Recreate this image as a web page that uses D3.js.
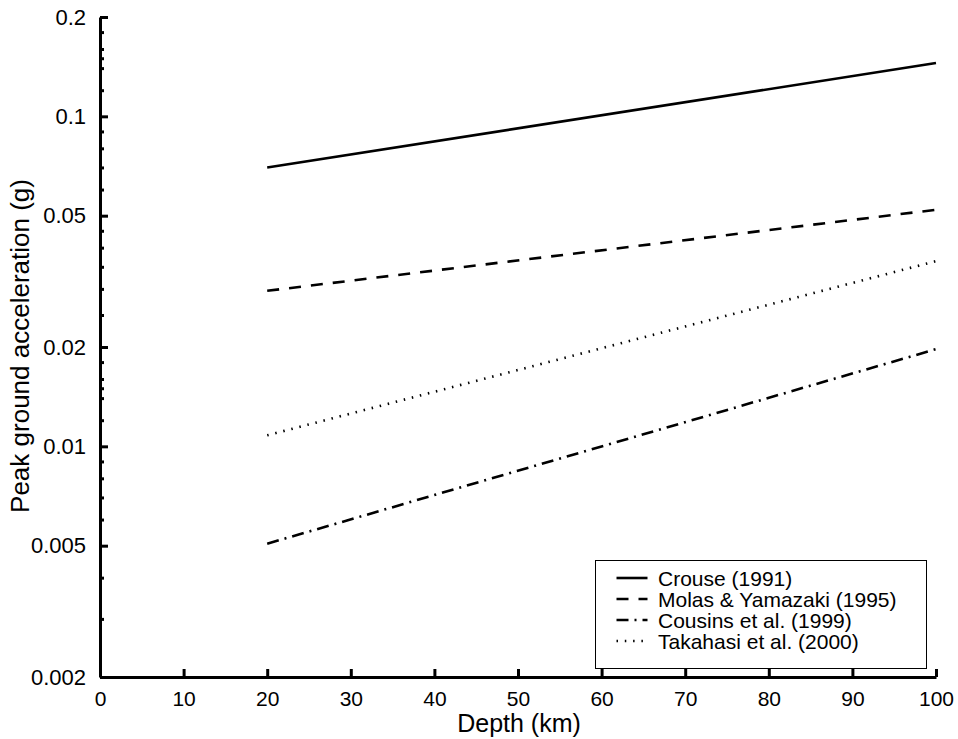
<!DOCTYPE html>
<html>
<head>
<meta charset="utf-8">
<script src="https://cdn.jsdelivr.net/npm/d3@7"></script>
<style>
  body { margin: 0; background: #fff; }
  text { font-family: "Liberation Sans", Arial, Helvetica, sans-serif; fill: #000; }
</style>
</head>
<body>
<svg id="chart" width="958" height="739"></svg>
<script>
// depth (km) at which each curve starts and ends
const depths = [20, 100];

// peak ground acceleration (g) per relation
const crouse = [0.070, 0.145];
const molas = [0.0296, 0.0521];
const cousins = [0.00507, 0.0197];
const takahasi = [0.0108, 0.0364];

const seriesNames = [
  "Crouse (1991)",
  "Molas & Yamazaki (1995)",
  "Cousins et al. (1999)",
  "Takahasi et al. (2000)",
];

// axis ticks
const xTicks = [0, 10, 20, 30, 40, 50, 60, 70, 80, 90, 100];
const yMajor = [0.002, 0.005, 0.01, 0.02, 0.05, 0.1, 0.2];
const yLabels = ["0.002", "0.005", "0.01", "0.02", "0.05", "0.1", "0.2"];
const yMinor = [
  0.003, 0.004,
  0.006, 0.007, 0.008, 0.009,
  0.012, 0.014, 0.015, 0.016, 0.018,
  0.025, 0.03, 0.035, 0.04, 0.045,
  0.06, 0.07, 0.08, 0.09,
  0.12, 0.14, 0.15, 0.16, 0.18,
];

const svg = d3.select("#chart");

const xScale = d3.scaleLinear().domain([0, 100]).range([100, 936]);
const yScale = d3.scaleLog().domain([0.002, 0.2]).range([677, 17]);

// dash patterns for each series
const dashes = [null, "12,10", "12,6,2,6", "1.5,6.8"];
const values = [crouse, molas, cousins, takahasi];

const line = d3
  .line()
  .x((d) => xScale(d.x))
  .y((d) => yScale(d.y));

values.forEach((vals, i) => {
  const pts = depths.map((x, j) => ({ x: x, y: vals[j] }));
  svg
    .append("path")
    .datum(pts)
    .attr("fill", "none")
    .attr("stroke", "#000")
    .attr("stroke-width", 2.6)
    .attr("stroke-dasharray", dashes[i])
    .attr("d", line);
});

// minor ticks on the y axis (inward)
svg
  .append("g")
  .attr("transform", "translate(100,0)")
  .call(d3.axisLeft(yScale).tickValues(yMinor).tickSize(-4).tickSizeOuter(0).tickFormat(""))
  .call((g) => g.select(".domain").remove())
  .call((g) => g.selectAll("line").attr("stroke-width", 3));

// y axis with major ticks
const yAxis = svg
  .append("g")
  .attr("transform", "translate(100,0)")
  .call(
    d3
      .axisLeft(yScale)
      .tickValues(yMajor)
      .tickSize(-8)
      .tickSizeOuter(0)
      .tickPadding(14)
      .tickFormat((d, i) => yLabels[i])
  );
yAxis.select(".domain").attr("stroke-width", 3);
yAxis.selectAll("line").attr("stroke-width", 3);
yAxis.selectAll("text").attr("font-size", 22).attr("font-family", null);

// x axis
const xAxis = svg
  .append("g")
  .attr("transform", "translate(0,677)")
  .call(d3.axisBottom(xScale).tickValues(xTicks).tickSize(-8).tickSizeOuter(0).tickPadding(14));
xAxis.select(".domain").attr("stroke-width", 3);
xAxis.selectAll("line").attr("stroke-width", 3);
xAxis.selectAll("text").attr("font-size", 21).attr("font-family", null);

// axis titles
svg
  .append("text")
  .attr("x", 519)
  .attr("y", 732)
  .attr("text-anchor", "middle")
  .attr("font-size", 25)
  .text("Depth (km)");

svg
  .append("text")
  .attr("transform", "translate(29,346) rotate(-90)")
  .attr("text-anchor", "middle")
  .attr("font-size", 26)
  .text("Peak ground acceleration (g)");

// legend
const legend = svg.append("g").attr("transform", "translate(595.5,560.5)");
legend
  .append("rect")
  .attr("width", 331)
  .attr("height", 108)
  .attr("fill", "#fff")
  .attr("stroke", "#000")
  .attr("stroke-width", 1);

seriesNames.forEach((name, i) => {
  const y = 17.5 + i * 21;
  legend
    .append("line")
    .attr("x1", 21)
    .attr("x2", 52)
    .attr("y1", y)
    .attr("y2", y)
    .attr("stroke", "#000")
    .attr("stroke-width", 2.6)
    .attr("stroke-dasharray", dashes[i]);
  legend
    .append("text")
    .attr("x", 62.5)
    .attr("y", y)
    .attr("dy", "0.36em")
    .attr("font-size", 21)
    .text(name);
});
</script>
</body>
</html>
